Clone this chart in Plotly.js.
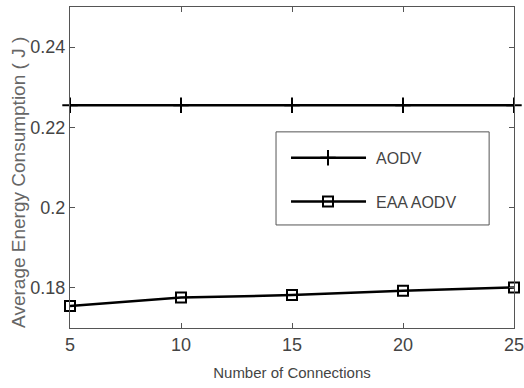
<!DOCTYPE html>
<html><head><meta charset="utf-8">
<script src="https://cdn.plot.ly/plotly-3.0.1.min.js"></script>
<style>body{margin:0;background:#fff}#c{width:524px;height:388px}</style>
</head><body><div id="c"></div>
<script>
const connections = [5, 10, 15, 20, 25];
const aodv = [0.2255, 0.2255, 0.2255, 0.2255, 0.2255];
const eaaAodv = [0.1755, 0.1776, 0.1782, 0.1793, 0.1801];
const xTicks = [5, 10, 15, 20, 25];
const yTicks = [0.18, 0.2, 0.22, 0.24];
const yTickText = ['0.18', '0.2', '0.22', '0.24'];

const FONT = '"Liberation Sans", Arial, sans-serif';
const traces = [
  {x: connections, y: aodv, name: 'AODV', legendgroup: 'a', mode: 'lines+markers', cliponaxis: false,
   line: {color: '#000', width: 2.5},
   marker: {symbol: 'cross-thin-open', size: 11, color: '#000', line: {color: '#000', width: 2}}},
  {x: connections, y: eaaAodv, name: 'EAA AODV', legendgroup: 'b', mode: 'lines+markers', cliponaxis: false,
   line: {color: '#000', width: 2.5},
   marker: {symbol: 'square-open', size: 10, color: '#000', line: {color: '#000', width: 2}}}
];
const layout = {
  width: 524, height: 388,
  margin: {l: 70, r: 10, t: 7, b: 60},
  paper_bgcolor: '#fff', plot_bgcolor: '#fff',
  font: {family: FONT, color: '#444', size: 14},
  showlegend: true,
  legend: {x: 0.464, y: 0.583, xanchor: 'left', yanchor: 'top',
    bgcolor: 'rgba(0,0,0,0)', borderwidth: 0,
    font: {family: FONT, size: 16, color: '#444'},
    tracegroupgap: 20, itemwidth: 90},
  shapes: [{type: 'rect', xref: 'paper', yref: 'paper', x0: 0.464, x1: 0.944, y0: 0.321, y1: 0.611,
    line: {color: '#555', width: 1}, fillcolor: '#fff', layer: 'below'}],
  annotations: [{text: 'Average Energy Consumption ( J )', xref: 'paper', yref: 'paper',
    x: -0.115, y: 0.455, xanchor: 'center', yanchor: 'middle', textangle: -90, showarrow: false,
    font: {family: FONT, size: 19, color: '#666'}}],
  xaxis: {range: [5, 25], tickvals: xTicks, ticks: 'inside', ticklen: 5,
    tickcolor: '#555', showline: true, linecolor: '#555', linewidth: 1,
    mirror: 'ticks', showgrid: false, zeroline: false, ticklabeloverflow: 'allow',
    tickfont: {family: FONT, size: 18, color: '#444'},
    title: {text: 'Number of Connections', font: {family: FONT, size: 15, color: '#444'}, standoff: 13}},
  yaxis: {range: [0.17, 0.25], tickvals: yTicks, ticktext: yTickText, ticks: 'inside', ticklen: 5,
    tickcolor: '#555', showline: true, linecolor: '#555', linewidth: 1,
    mirror: 'ticks', showgrid: false, zeroline: false,
    tickfont: {family: FONT, size: 18, color: '#444'}}
};
Plotly.newPlot('c', traces, layout, {displayModeBar: false, staticPlot: true}).then(function (gd) {
  // lengthen legend line samples to match the reference style
  gd.querySelectorAll('.legend .legendlines path').forEach(function (p) { p.setAttribute('d', 'M15,0h75'); });
  gd.querySelectorAll('.legend .legendpoints path').forEach(function (p) {
    p.setAttribute('transform', 'translate(52,0)');
  });
});
</script></body></html>
